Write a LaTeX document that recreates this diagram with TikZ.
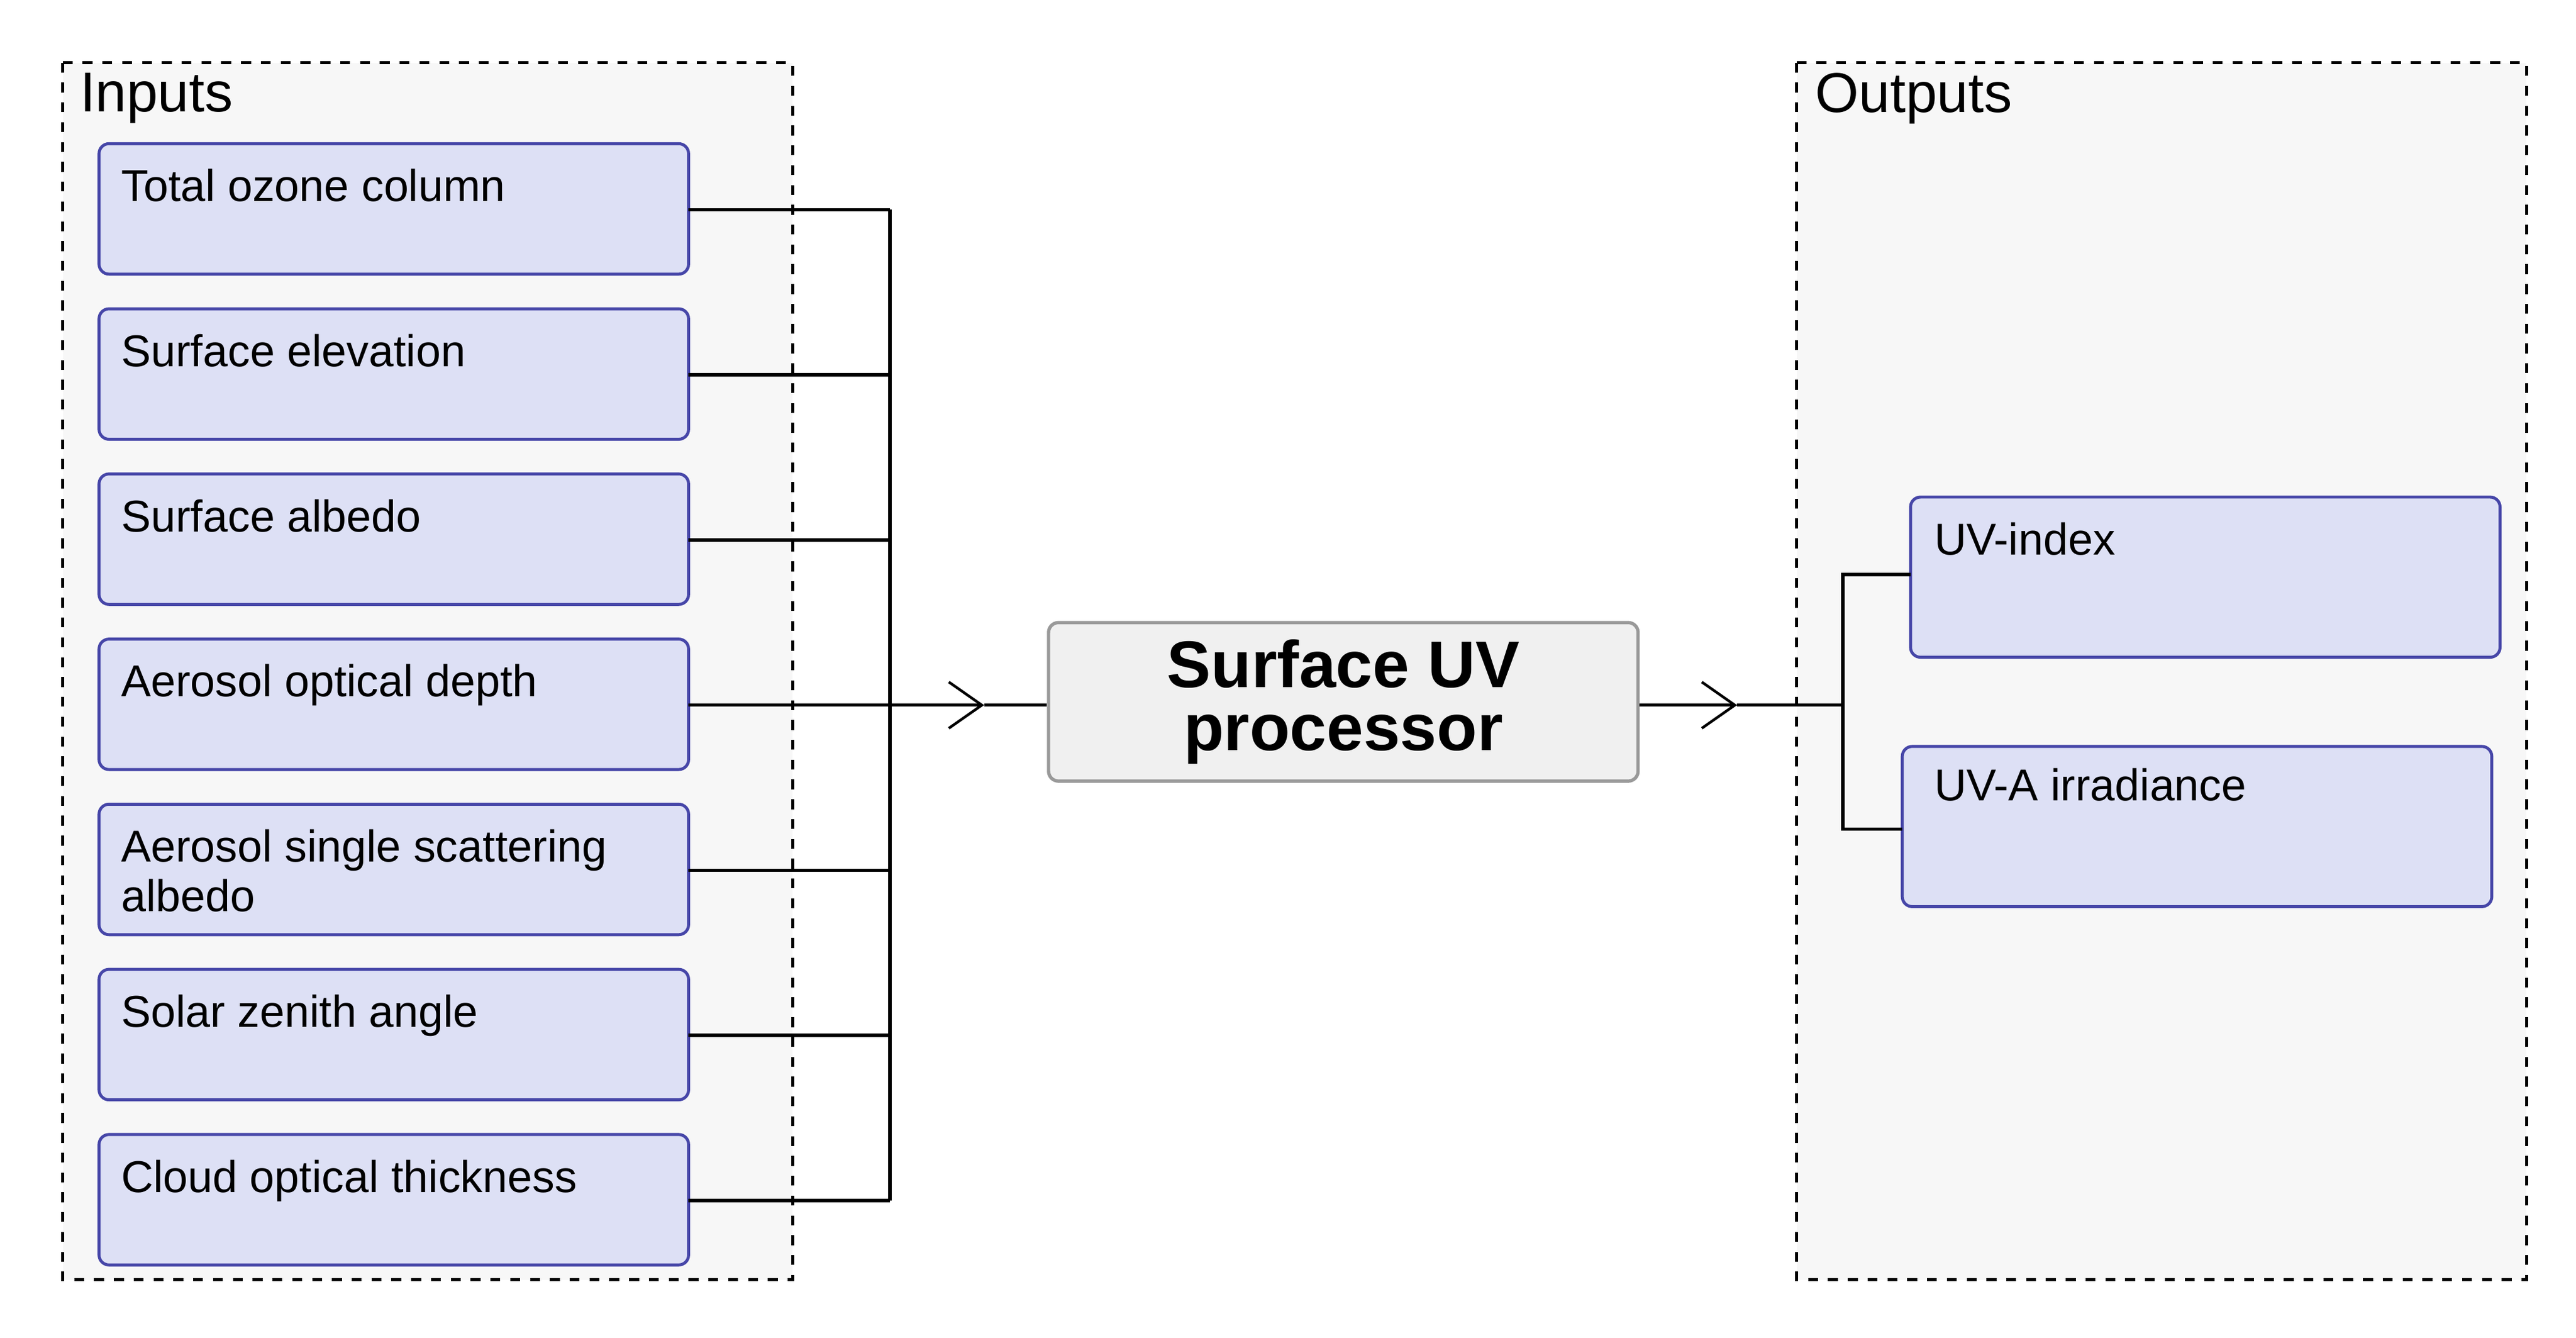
\documentclass[tikz,border=0pt]{standalone}
\usepackage{fontspec}
\setmainfont{Liberation Sans}
\usetikzlibrary{arrows.meta}
\definecolor{boxfill}{HTML}{DDE0F5}
\definecolor{boxline}{HTML}{4646A8}
\definecolor{grpfill}{HTML}{F7F7F7}
\begin{document}
\begin{tikzpicture}[x=0.5pt,y=-0.5pt,
  grp/.style={draw=black,dashed,line width=0.9pt,fill=grpfill},
  inbox/.style={draw=boxline,fill=boxfill,rounded corners=3pt,line width=0.9pt},
  lbl/.style={anchor=north west,inner sep=0pt,font=\fontsize{13.5}{15}\selectfont,align=left},
  conn/.style={line width=1pt},
  arr/.style={line width=1pt,-{Straight Barb[length=10pt,width=14pt,line width=0.8pt]}}]
\useasboundingbox (0,0) rectangle (1560,810);
% groups
\draw[grp] (38,38) rectangle (480,775);
\node[anchor=north west,inner sep=0pt,font=\fontsize{17}{19}\selectfont] (inl) at (48,44) {Inputs};
\draw[grp] (1088,38) rectangle (1530,775);
\node[anchor=north west,inner sep=0pt,font=\fontsize{17}{19}\selectfont] (outl) at (1099,44) {Outputs};
% input boxes
\foreach \i/\y/\t in {1/87/Total ozone column,2/187/Surface elevation,3/287/Surface albedo,4/387/Aerosol optical depth,5/487/{Aerosol single scattering\\albedo},6/587/Solar zenith angle,7/687/Cloud optical thickness}{
  \draw[inbox] (60,\y) rectangle (417,\y+79);
  \coordinate (in\i) at (417,\y+40);
  \coordinate (bus\i) at (539,\y+40);
  \node[lbl] (t\i) at (73,\y+15) {\t};
  \draw[conn] (in\i) -- (bus\i);
}
\draw[conn] (bus1) -- (bus7);
% processor
\node[draw=gray!80,fill=gray!12,rounded corners=3pt,line width=1pt,minimum width=178.5pt,minimum height=48pt,align=center,font=\bfseries\fontsize{20}{19}\selectfont] (proc) at (813.5,425) {Surface UV\\processor};
\coordinate (tip1) at (596,427);
\draw[arr] (bus4) -- (tip1);
\draw[conn] (tip1) -- (proc.west|-tip1);
% outputs
\draw[inbox] (1157,301) rectangle (1514,398);
\node[lbl] (uvi) at (1171,316) {UV-index};
\draw[inbox] (1152,452) rectangle (1509,549);
\node[lbl] (uva) at (1171,465) {UV-A irradiance};
\coordinate (tip2) at (1052,427);
\coordinate (obus) at (1116,427);
\coordinate (ob1) at (1116,348);
\coordinate (ob2) at (1116,502);
\coordinate (o1) at (1157,348);
\coordinate (o2) at (1152,502);
\draw[arr] (proc.east|-tip2) -- (tip2);
\draw[conn] (tip2) -- (obus);
\draw[conn] (o1) -- (ob1) -- (ob2) -- (o2);
\end{tikzpicture}
\end{document}
